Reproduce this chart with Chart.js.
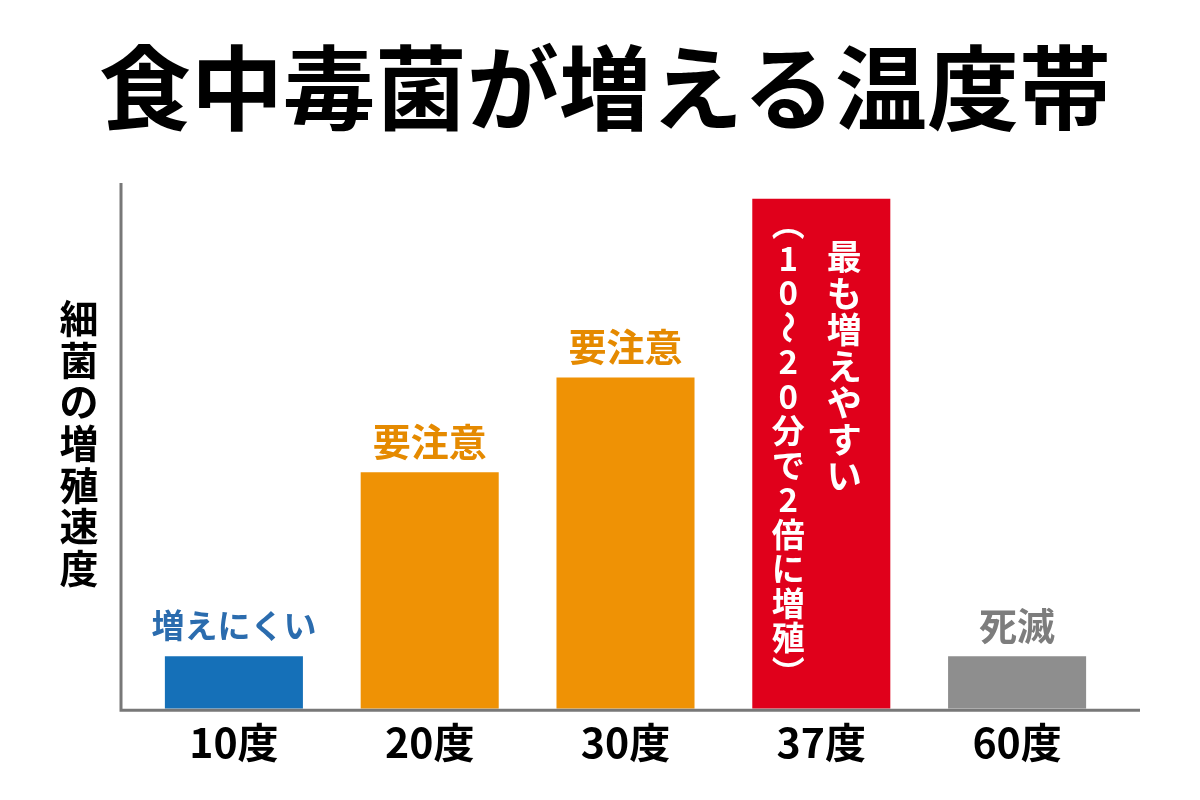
<!DOCTYPE html>
<html>
<head>
<meta charset="utf-8">
<script src="https://cdn.jsdelivr.net/npm/chart.js@4"></script>
<style>
  html, body { margin: 0; padding: 0; background: #ffffff; }
  #wrap { width: 1200px; height: 800px; position: relative; }
</style>
</head>
<body>
<div id="wrap"><canvas id="chart" width="1200" height="800"></canvas></div>
<script>
const FONT = '"Noto Sans CJK JP", "Noto Sans", sans-serif';

// data
const temps = ['10度', '20度', '30度', '37度', '60度'];
const growth = [10, 45, 63, 97, 10];
const barColors = ['#1570b8', '#ef9205', '#ef9205', '#e0001b', '#8e8e8e'];
const notes = ['増えにくい', '要注意', '要注意', '', '死滅'];
const noteColors = ['#2b6cae', '#e58a00', '#e58a00', '#ffffff', '#7d7d7d'];
const peakMain = ['最', 'も', '増', 'え', 'や', 'す', 'い'];
const peakSub = ['︵', '1', '0', '〜', '2', '0', '分', 'で', '2', '倍', 'に', '増', '殖', '︶'];
const yTitle = ['細', '菌', 'の', '増', '殖', '速', '度'];
const chartTitle = '食中毒菌が増える温度帯';

// title, axis lines, labels on bars
const decor = {
    id: 'decor',
    afterDatasetsDraw(chart) {
        const ctx = chart.ctx;
        const area = chart.chartArea;
        const meta = chart.getDatasetMeta(0);

        ctx.save();
        // axis lines
        ctx.strokeStyle = '#787878';
        ctx.lineWidth = 3;
        ctx.beginPath();
        ctx.moveTo(area.left - 15, area.top);
        ctx.lineTo(area.left - 15, area.bottom + 1.5);
        ctx.lineTo(area.right + 25, area.bottom + 1.5);
        ctx.stroke();

        ctx.textAlign = 'center';
        ctx.textBaseline = 'middle';

        // title
        ctx.fillStyle = '#000000';
        ctx.font = 'bold 92px ' + FONT;
        ctx.fillText(chartTitle, 605, 88);

        // y axis title, stacked vertically
        ctx.font = 'bold 39px ' + FONT;
        yTitle.forEach((ch, i) => {
            ctx.fillText(ch, 79, 318 + i * 41.7);
        });

        // notes above bars
        meta.data.forEach((bar, i) => {
            if (!notes[i]) return;
            ctx.fillStyle = noteColors[i];
            ctx.font = 'bold ' + (i === 0 ? 33 : 38) + 'px ' + FONT;
            ctx.fillText(notes[i], bar.x, bar.y - 31);
        });

        // vertical text inside the tallest bar
        const peak = meta.data[3];
        ctx.fillStyle = '#ffffff';
        ctx.font = 'bold 35px ' + FONT;
        peakMain.forEach((ch, i) => {
            ctx.fillText(ch, peak.x + 23, peak.y + 58 + i * 36.5);
        });
        ctx.font = 'bold 33px ' + FONT;
        peakSub.forEach((ch, i) => {
            const y = peak.y + 25 + i * 34.5;
            if (ch === '〜') {
                ctx.save();
                ctx.translate(peak.x - 33, y);
                ctx.rotate(Math.PI / 2);
                ctx.fillText(ch, 0, 0);
                ctx.restore();
            } else {
                ctx.fillText(ch, peak.x - 33, y);
            }
        });
        ctx.restore();
    }
};

const ctx = document.getElementById('chart').getContext('2d');
new Chart(ctx, {
    type: 'bar',
    data: {
        labels: temps,
        datasets: [{
            data: growth,
            backgroundColor: barColors,
            borderWidth: 0,
            categoryPercentage: 1,
            barPercentage: 0.705
        }]
    },
    options: {
        responsive: false,
        animation: false,
        layout: {
            padding: { top: 183, left: 136, right: 85, bottom: 24 }
        },
        plugins: {
            legend: { display: false },
            title: { display: false },
            tooltip: { enabled: false }
        },
        scales: {
            x: {
                grid: { display: false, drawTicks: false },
                border: { display: false },
                ticks: {
                    padding: 9,
                    color: '#000000',
                    font: { family: FONT, size: 41, weight: 'bold' }
                }
            },
            y: {
                display: false,
                min: 0,
                max: 100
            }
        }
    },
    plugins: [decor]
});
</script>
</body>
</html>
